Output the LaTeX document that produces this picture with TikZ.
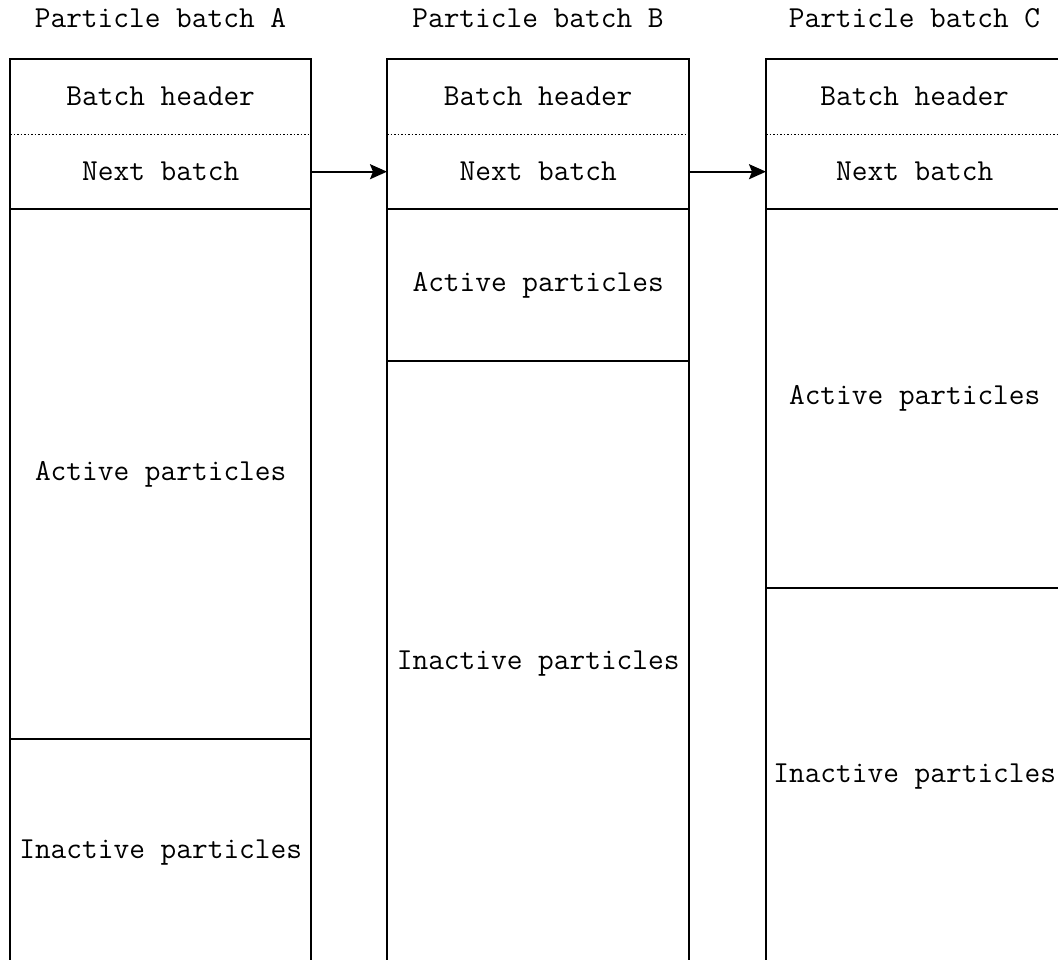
\documentclass[tikz,border=0pt]{standalone}
\usepackage{fontspec}
\usetikzlibrary{arrows.meta}
\begin{document}
\begin{tikzpicture}[x=1pt,y=-1pt,
  sect/.style={rectangle,inner sep=0pt,anchor=north west,font=\ttfamily\fontsize{30.5}{34}\selectfont},
  title/.style={inner sep=0pt,font=\ttfamily\fontsize{30.5}{34}\selectfont},
  frame/.style={line width=1.9pt},
  dots/.style={line width=1.4pt,dash pattern=on 1.5pt off 2pt},
  link/.style={line width=1.9pt,-{Stealth[length=17pt,width=15pt,inset=3pt]}}]
\useasboundingbox (0,0) rectangle (1058,960);
\clip (0,0) rectangle (1058,960);
% column A
\node[title] (tA) at (160.5,18) {Particle batch A};
\node[sect,minimum width=301pt,minimum height=75pt] (hA) at (10,59) {Batch header};
\node[sect,minimum width=301pt,minimum height=75pt] (nA) at (10,134) {Next batch};
\node[sect,minimum width=301pt,minimum height=530pt] (aA) at (10,209) {Active particles};
\node[sect,minimum width=301pt,minimum height=226pt] (iA) at (10,739) {Inactive particles};
% column B
\node[title] (tB) at (538,18) {Particle batch B};
\node[sect,minimum width=302pt,minimum height=75pt] (hB) at (387,59) {Batch header};
\node[sect,minimum width=302pt,minimum height=75pt] (nB) at (387,134) {Next batch};
\node[sect,minimum width=302pt,minimum height=152pt] (aB) at (387,209) {Active particles};
\node[sect,minimum width=302pt,minimum height=604pt] (iB) at (387,361) {Inactive particles};
% column C
\node[title] (tC) at (914.5,18) {Particle batch C};
\node[sect,minimum width=297pt,minimum height=75pt] (hC) at (766,59) {Batch header};
\node[sect,minimum width=297pt,minimum height=75pt] (nC) at (766,134) {Next batch};
\node[sect,minimum width=297pt,minimum height=379pt] (aC) at (766,209) {Active particles};
\node[sect,minimum width=297pt,minimum height=377pt] (iC) at (766,588) {Inactive particles};
% frames and separators
\foreach \c in {A,B,C}{
  \draw[frame] (h\c.north west) rectangle (i\c.south east);
  \draw[dots] (h\c.south west) -- (h\c.south east);
  \draw[frame] (n\c.south west) -- (n\c.south east);
  \draw[frame] (a\c.south west) -- (a\c.south east);
}
% links
\draw[link] (nA.east) -- (nB.west);
\draw[link] (nB.east) -- (nC.west);
\end{tikzpicture}
\end{document}
